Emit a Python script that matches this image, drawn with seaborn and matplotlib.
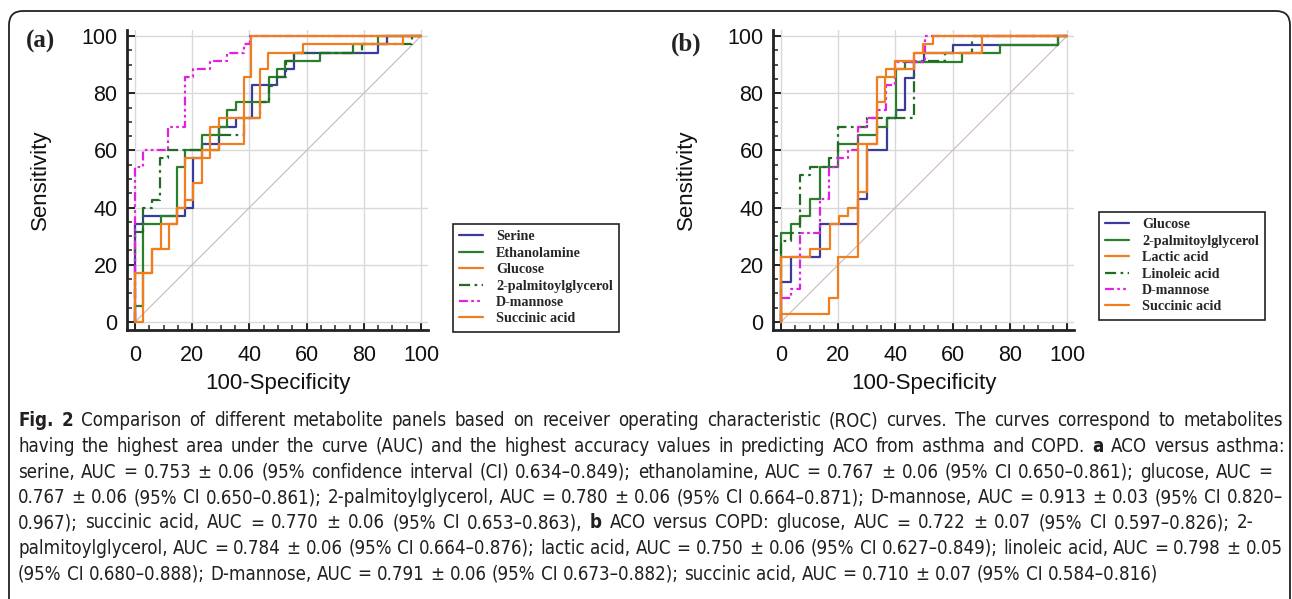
import numpy as np
import pandas as pd
import matplotlib
matplotlib.use("Agg")
import matplotlib.pyplot as plt
import seaborn as sns
from matplotlib.patches import FancyBboxPatch
from matplotlib.ticker import MultipleLocator
from matplotlib.transforms import IdentityTransform
from matplotlib import font_manager as fm

# ---------------- data ----------------
ticks = [0, 20, 40, 60, 80, 100]
diag = [0, 100]

# panel (a): ACO versus asthma  (x = 100-Specificity, y = Sensitivity)
a_serine_x = [0, 0, 2.9, 17.5, 20.2, 23.3, 29.4, 35.2, 40.8, 49.8, 52.4, 55.6, 85.1, 88.0, 100]
a_serine_y = [0, 34.3, 37.1, 40.0, 57.2, 62.4, 68.3, 71.2, 82.9, 85.5, 88.3, 94.2, 97.1, 100, 100]
a_ethanol_x = [0, 0, 2.7, 9.0, 14.6, 17.5, 23.3, 29.4, 32.3, 35.2, 46.9, 49.8, 52.4, 64.5, 76.1, 85.1, 100]
a_ethanol_y = [0, 5.7, 34.3, 37.1, 54.3, 60.1, 65.3, 68.3, 74.1, 77.0, 85.5, 88.3, 91.3, 94.2, 97.1, 100, 100]
a_glucose_x = [0, 2.9, 5.8, 9.0, 14.6, 17.5, 20.2, 23.3, 26.2, 29.4, 43.7, 46.6, 58.8, 93.8, 100]
a_glucose_y = [0, 17.1, 25.5, 34.3, 40.0, 42.7, 48.5, 57.2, 68.3, 71.2, 88.3, 94.2, 97.1, 100, 100]
a_palm_x = [0, 0, 2.9, 5.8, 8.7, 11.7, 29.4, 38.1, 43.7, 46.9, 49.8, 52.7, 55.6, 79.3, 96.7, 100]
a_palm_y = [0, 31.4, 40.0, 42.7, 57.2, 60.1, 65.3, 71.2, 77.0, 82.6, 85.5, 91.3, 94.2, 97.1, 100, 100]
a_mannose_x = [0, 0, 2.9, 11.7, 17.5, 20.2, 26.2, 32.3, 38.1, 40.2, 100]
a_mannose_y = [0, 54.3, 60.1, 68.3, 85.5, 88.3, 91.3, 94.2, 97.1, 100, 100]
a_succinic_x = [0, 0, 5.8, 11.9, 14.6, 17.5, 23.3, 29.4, 38.1, 40.5, 100]
a_succinic_y = [0, 17.1, 25.5, 34.3, 40.0, 57.2, 60.1, 62.4, 85.5, 100, 100]

# panel (b): ACO versus COPD
b_glucose_x = [0, 0, 3.5, 13.6, 26.8, 29.9, 36.9, 40.2, 43.4, 46.6, 50.1, 60.3, 96.7, 100]
b_glucose_y = [0, 14.1, 22.8, 34.3, 42.9, 60.1, 71.2, 74.1, 85.2, 91.0, 94.0, 96.9, 100, 100]
b_palm_x = [0, 0, 3.5, 6.6, 10.1, 13.6, 20.0, 26.8, 33.4, 36.9, 40.2, 43.4, 63.2, 76.6, 97.0, 100]
b_palm_y = [0, 31.2, 34.3, 37.1, 42.9, 54.3, 62.4, 65.3, 68.3, 71.2, 88.3, 91.0, 94.0, 96.9, 100, 100]
b_lactic_x = [0, 0, 10.1, 17.1, 20.3, 23.3, 26.8, 33.4, 36.4, 39.7, 46.6, 49.8, 53.2, 100]
b_lactic_y = [0, 22.8, 25.5, 34.3, 37.1, 40.0, 62.4, 77.0, 85.5, 88.3, 94.2, 97.1, 100, 100]
b_linoleic_x = [0, 0, 3.5, 6.6, 10.1, 16.9, 20.0, 29.9, 46.6, 57.3, 66.7, 100]
b_linoleic_y = [0, 28.4, 31.2, 51.4, 54.3, 57.2, 68.3, 71.2, 91.3, 94.2, 100, 100]
b_mannose_x = [0, 0, 3.5, 6.6, 13.6, 16.9, 20.0, 23.3, 26.8, 29.9, 33.4, 36.7, 39.7, 50.4, 100]
b_mannose_y = [0, 8.5, 11.4, 31.2, 42.9, 54.3, 57.2, 60.1, 68.3, 71.2, 74.1, 82.9, 91.0, 100, 100]
b_succinic_x = [0, 0, 16.9, 20.0, 26.8, 29.9, 33.4, 36.7, 39.7, 46.6, 70.1, 100]
b_succinic_y = [0, 2.8, 8.5, 22.8, 45.6, 62.4, 85.5, 88.3, 91.3, 94.2, 100, 100]

# caption lines: segments of (text, bold); right end (px) of each justified line
caption_lines = [
    [("Fig. 2", True), (" Comparison of different metabolite panels based on receiver operating characteristic (ROC) curves. The curves correspond to metabolites", False)],
    [("having the highest area under the curve (AUC) and the highest accuracy values in predicting ACO from asthma and COPD. ", False), ("a", True), (" ACO versus asthma:", False)],
    [("serine, AUC = 0.753 \u00b1 0.06 (95% confidence interval (CI) 0.634\u20130.849); ethanolamine, AUC = 0.767 \u00b1 0.06 (95% CI 0.650\u20130.861); glucose, AUC =", False)],
    [("0.767 \u00b1 0.06 (95% CI 0.650\u20130.861); 2-palmitoylglycerol, AUC = 0.780 \u00b1 0.06 (95% CI 0.664\u20130.871); D-mannose, AUC = 0.913 \u00b1 0.03 (95% CI 0.820\u2013", False)],
    [("0.967); succinic acid, AUC = 0.770 \u00b1 0.06 (95% CI 0.653\u20130.863), ", False), ("b", True), (" ACO versus COPD: glucose, AUC = 0.722 \u00b1 0.07 (95% CI 0.597\u20130.826); 2-", False)],
    [("palmitoylglycerol, AUC = 0.784 \u00b1 0.06 (95% CI 0.664\u20130.876); lactic acid, AUC = 0.750 \u00b1 0.06 (95% CI 0.627\u20130.849); linoleic acid, AUC = 0.798 \u00b1 0.05", False)],
    [("(95% CI 0.680\u20130.888); D-mannose, AUC = 0.791 \u00b1 0.06 (95% CI 0.673\u20130.882); succinic acid, AUC = 0.710 \u00b1 0.07 (95% CI 0.584\u20130.816)", False)],
]
caption_line_ends = [1283, 1285, 1272, 1283, 1254, 1283, 1193]
caption_justified = [True, True, True, True, True, True, False]

# ---------------- styles ----------------
NAVY = "#3b3b9c"
GREEN = "#2b7f2b"
ORANGE = "#f07d1e"
DKGREEN = "#226b22"
MAGENTA = "#e21fe2"
DASHDOT = (0, (5, 2, 1.2, 2))
DASHDOTDOT = (0, (4, 1.5, 1.2, 1.5, 1.2, 1.5))

sns.set_theme(style="white")
plt.rcParams['font.family'] = ['Liberation Sans', 'DejaVu Sans']

W, H = 1292, 599
fig = plt.figure(figsize=(W / 100, H / 100), dpi=100)
fig.patch.set_facecolor("white")

def px_axes(x0, y0, x1, y1):
    return fig.add_axes([x0 / W, 1 - y1 / H, (x1 - x0) / W, (y1 - y0) / H])

axA = px_axes(127.3, 30.3, 428.2, 329.7)
axB = px_axes(773.3, 30.3, 1074.2, 329.7)

def draw_curve(ax, xs, ys, color, ls, name, z):
    df = pd.DataFrame({"fpr": xs, "tpr": ys})
    sns.lineplot(data=df, x="fpr", y="tpr", ax=ax, sort=False, estimator=None,
                 color=color, linestyle=ls, linewidth=1.6, drawstyle="steps-post",
                 label=name, zorder=z)
    return ax.get_lines()[-1]

def style_axes(ax, legend_handles, legend_labels, leg_xy):
    sns.lineplot(x=diag, y=diag, ax=ax, color="#c9b9b9", linewidth=0.8, zorder=1)
    ax.set_xlim(-2.7, 102.5)
    ax.set_ylim(-2.7, 102)
    ax.set_xticks(ticks)
    ax.set_yticks(ticks)
    ax.xaxis.set_minor_locator(MultipleLocator(5))
    ax.yaxis.set_minor_locator(MultipleLocator(5))
    ax.grid(True, which="major", color="#d9d9d9", linewidth=1.0)
    ax.set_axisbelow(True)
    for s in ["top", "right"]:
        ax.spines[s].set_visible(False)
    for s in ["left", "bottom"]:
        ax.spines[s].set_color("#222222")
        ax.spines[s].set_linewidth(2.0)
    ax.tick_params(which="both", direction="in", bottom=True, left=True, colors="#222222")
    ax.tick_params(which="major", length=6, width=1.4, labelsize=15.5, labelcolor="#111111")
    ax.tick_params(axis="x", which="major", pad=11)
    ax.tick_params(axis="y", which="major", pad=7)
    ax.tick_params(which="minor", length=3.5, width=1.1)
    ax.set_xlabel("100-Specificity", fontsize=16, color="#111111")
    ax.set_ylabel("Sensitivity", fontsize=16, color="#111111")
    ax.xaxis.set_label_coords(0.5, -0.145)
    ax.yaxis.set_label_coords(-0.255, 0.5)
    leg = ax.legend(legend_handles, legend_labels, loc="upper left",
                    bbox_to_anchor=(leg_xy[0] / W, 1 - leg_xy[1] / H),
                    bbox_transform=fig.transFigure, borderaxespad=0,
                    prop={"family": "Liberation Serif", "weight": "bold", "size": 10.2},
                    frameon=True, fancybox=False, framealpha=1, edgecolor="#222222",
                    handlelength=1.7, handletextpad=0.9, labelspacing=0.24,
                    borderpad=0.45)
    leg.get_frame().set_linewidth(1.2)
    leg.get_frame().set_facecolor("white")

# panel a
hA = {}
hA["Serine"] = draw_curve(axA, a_serine_x, a_serine_y, NAVY, "-", "Serine", 3)
hA["Ethanolamine"] = draw_curve(axA, a_ethanol_x, a_ethanol_y, GREEN, "-", "Ethanolamine", 4)
hA["2-palmitoylglycerol"] = draw_curve(axA, a_palm_x, a_palm_y, DKGREEN, DASHDOT, "2-palmitoylglycerol", 5)
hA["D-mannose"] = draw_curve(axA, a_mannose_x, a_mannose_y, MAGENTA, DASHDOTDOT, "D-mannose", 6)
hA["Glucose"] = draw_curve(axA, a_glucose_x, a_glucose_y, ORANGE, "-", "Glucose", 7)
hA["Succinic acid"] = draw_curve(axA, a_succinic_x, a_succinic_y, ORANGE, "-", "Succinic acid", 8)
orderA = ["Serine", "Ethanolamine", "Glucose", "2-palmitoylglycerol", "D-mannose", "Succinic acid"]
style_axes(axA, [hA[k] for k in orderA], orderA, (453, 224))

# panel b
hB = {}
hB["Glucose"] = draw_curve(axB, b_glucose_x, b_glucose_y, NAVY, "-", "Glucose", 3)
hB["2-palmitoylglycerol"] = draw_curve(axB, b_palm_x, b_palm_y, GREEN, "-", "2-palmitoylglycerol", 4)
hB["Linoleic acid"] = draw_curve(axB, b_linoleic_x, b_linoleic_y, DKGREEN, DASHDOT, "Linoleic acid", 5)
hB["D-mannose"] = draw_curve(axB, b_mannose_x, b_mannose_y, MAGENTA, DASHDOTDOT, "D-mannose", 6)
hB["Lactic acid"] = draw_curve(axB, b_lactic_x, b_lactic_y, ORANGE, "-", "Lactic acid", 7)
hB["Succinic acid"] = draw_curve(axB, b_succinic_x, b_succinic_y, ORANGE, "-", "Succinic acid", 8)
orderB = ["Glucose", "2-palmitoylglycerol", "Lactic acid", "Linoleic acid", "D-mannose", "Succinic acid"]
style_axes(axB, [hB[k] for k in orderB], orderB, (1099, 212))

# panel letters
fig.text(26 / W, 1 - 41 / H, "(a)", fontsize=18, fontweight="bold", family="Liberation Serif",
         va="center", ha="left", color="#222222")
fig.text(671 / W, 1 - 44 / H, "(b)", fontsize=18, fontweight="bold", family="Liberation Serif",
         va="center", ha="left", color="#222222")

# outer rounded frame
frame = FancyBboxPatch((9, -40), 1281, H - 11 + 40,
                       boxstyle="round,pad=0,rounding_size=14",
                       transform=IdentityTransform(), fill=False,
                       edgecolor="#222222", linewidth=1.3, zorder=0)
fig.patches.append(frame)

# ---------------- caption (justified lines) ----------------
def has_font(name):
    try:
        fm.findfont(fm.FontProperties(family=name), fallback_to_default=False)
        return True
    except Exception:
        return False

if has_font("Liberation Sans Narrow"):
    cap_family, cap_stretch = "Liberation Sans Narrow", "normal"
else:
    cap_family, cap_stretch = "DejaVu Sans", "condensed"
renderer = fig.canvas.get_renderer()

def text_width(s, size, bold):
    t = fig.text(0, 0, s, fontsize=size, family=cap_family, fontstretch=cap_stretch,
                 fontweight="bold" if bold else "normal")
    w = t.get_window_extent(renderer).width
    t.remove()
    return w

def words_of(pieces):
    out = []
    for s, b in pieces:
        for w in s.split(" "):
            if w:
                out.append((w, b))
    return out

base = 12.0
def natural_width(pieces, size):
    ws = words_of(pieces)
    sp = text_width("a a", size, False) - text_width("aa", size, False)
    return sum(text_width(w, size, b) for w, b in ws) + sp * (len(ws) - 1)

x0 = 18.0
# largest size at which every line fits its width in the reference
cap_size = min(base * (end - x0) / natural_width(p, base)
               for p, end in zip(caption_lines, caption_line_ends))
space_w = text_width("a a", cap_size, False) - text_width("aa", cap_size, False)

for i, pieces in enumerate(caption_lines):
    ws = words_of(pieces)
    widths = [text_width(w, cap_size, b) for w, b in ws]
    end = caption_line_ends[i]
    if not caption_justified[i] or len(ws) < 2:
        gap = space_w
    else:
        gap = (end - x0 - sum(widths)) / (len(ws) - 1)
    y = 426.5 + 25.5 * i
    x = x0
    for (w, b), wd in zip(ws, widths):
        fig.text(x / W, 1 - y / H, w, fontsize=cap_size, family=cap_family,
                 fontstretch=cap_stretch, fontweight="bold" if b else "normal",
                 color="#231f20", ha="left", va="baseline")
        x += wd + gap

fig.savefig("out.png", dpi=100)
